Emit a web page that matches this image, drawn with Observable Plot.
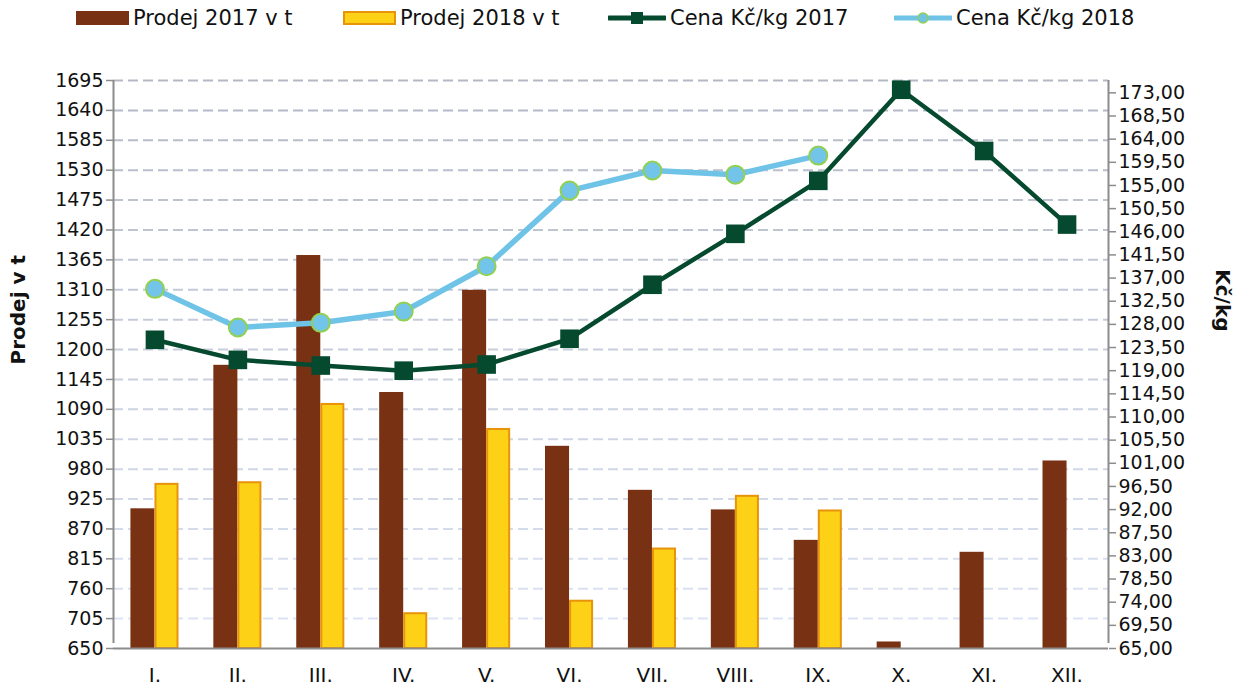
<!DOCTYPE html>
<html><head><meta charset="utf-8">
<script src="https://cdn.jsdelivr.net/npm/d3@7"></script>
<script src="https://cdn.jsdelivr.net/npm/@observablehq/plot@0.6"></script>
<style>
body{margin:0;background:#fff;font-family:"DejaVu Sans",Verdana,sans-serif;}
#legend{position:relative;height:40px;width:1236px;}
.item{position:absolute;top:0;height:36px;display:flex;align-items:center;font-size:21px;color:#111;white-space:nowrap;}
.item svg{margin-right:4px;}
</style></head>
<body>
<div id="legend"></div>
<div id="chart"></div>
<script>
const months = ["I.","II.","III.","IV.","V.","VI.","VII.","VIII.","IX.","X.","XI.","XII."];
const sales2017 = [907, 1171, 1373, 1121, 1309, 1022, 941, 905, 849, 662, 827, 995];
const sales2018 = [952, 955, 1099, 714, 1053, 737, 833, 930, 903, null, null, null];
const price2017 = [125.0, 121.1, 120.0, 119.0, 120.2, 125.2, 135.7, 145.6, 155.9, 173.6, 161.7, 147.4];
const price2018 = [134.9, 127.4, 128.3, 130.5, 139.3, 154.0, 157.9, 157.1, 160.8, null, null, null];
const salesTicks = [650,705,760,815,870,925,980,1035,1090,1145,1200,1255,1310,1365,1420,1475,1530,1585,1640,1695];
const priceTicks = [65,69.5,74,78.5,83,87.5,92,96.5,101,105.5,110,114.5,119,123.5,128,132.5,137,141.5,146,150.5,155,159.5,164,168.5,173];
const seriesNames = ["Prodej 2017 v t","Prodej 2018 v t","Cena Kč/kg 2017","Cena Kč/kg 2018"];

const SALES_MIN = 650, SALES_MAX = 1695, PRICE_MIN = 65, PRICE_MAX = 175.4;
const C17 = "#783213", C18 = "#fcd116", C18S = "#e8930c", G17 = "#054a2f", B18 = "#6ec3e7", B18S = "#92d050";

const W = 1236, H = 650, ML = 113, MR = 128, MT = 40, MB = 42;
const k = (SALES_MAX - SALES_MIN) / (PRICE_MAX - PRICE_MIN);
const toLeft = p => SALES_MIN + (p - PRICE_MIN) * k;
const fromLeft = v => PRICE_MIN + (v - SALES_MIN) / k;

const rows = months.map((m, i) => ({month: m, s17: sales2017[i], s18: sales2018[i], p17: price2017[i], p18: price2018[i]}));
const rows18 = rows.filter(d => d.s18 != null);
const rowsP18 = rows.filter(d => d.p18 != null);
const PI = 0.42;
const step = (W - ML - MR) / months.length;
const half = step * (1 - PI) / 2;
const gridColor = d3.interpolateRgb("#dde6f6", "#b4b8c4");

// legend
const legend = document.getElementById("legend");
const sw = [
  `<svg width="53" height="14"><rect x="0" y="0" width="53" height="14" fill="${C17}"/></svg>`,
  `<svg width="53" height="14"><rect x="1" y="1" width="51" height="12" fill="${C18}" stroke="${C18S}" stroke-width="2"/></svg>`,
  `<svg width="58" height="14"><line x1="1" y1="7" x2="57" y2="7" stroke="${G17}" stroke-width="5" stroke-linecap="round"/><rect x="23" y="1" width="12" height="12" fill="${G17}"/></svg>`,
  `<svg width="58" height="14"><line x1="1" y1="7" x2="57" y2="7" stroke="${B18}" stroke-width="5" stroke-linecap="round"/><circle cx="29" cy="7" r="5" fill="${B18}" stroke="${B18S}" stroke-width="1.5"/></svg>`
];
const lefts = [76, 343, 608, 894];
seriesNames.forEach((n, i) => {
  const d = document.createElement("div");
  d.className = "item";
  d.style.left = lefts[i] + "px";
  d.innerHTML = sw[i] + `<span>${n}</span>`;
  legend.appendChild(d);
});

const chart = Plot.plot({
  width: W, height: H,
  marginLeft: ML, marginRight: MR, marginTop: MT, marginBottom: MB,
  style: {fontFamily: "DejaVu Sans, Verdana, sans-serif", fontSize: "19px", color: "#111", background: "#fff"},
  x: {domain: months, type: "band", paddingInner: PI, paddingOuter: PI / 2, round: false, axis: null},
  y: {domain: [SALES_MIN, SALES_MAX], axis: null},
  marks: [
    Plot.ruleY(salesTicks.slice(1), {y: d => d, stroke: d => gridColor((d - SALES_MIN) / (SALES_MAX - SALES_MIN)), strokeWidth: 2, strokeDasharray: "10,5"}),
    Plot.barY(rows, {x: "month", y1: SALES_MIN, y2: "s17", fill: C17, insetRight: half}),
    Plot.barY(rows18, {x: "month", y1: SALES_MIN, y2: "s18", fill: C18, stroke: C18S, strokeWidth: 2, insetLeft: half + 1, insetRight: 1}),
    Plot.ruleX([months[0]], {x: d => d, dx: -step / 2, y1: SALES_MIN, y2: SALES_MAX, insetTop: -5, stroke: "#8c8c8c", strokeWidth: 2}),
    Plot.ruleX([months[months.length - 1]], {x: d => d, dx: step / 2, y1: SALES_MIN, y2: SALES_MAX, insetTop: -5, stroke: "#8c8c8c", strokeWidth: 2}),
    Plot.ruleY([SALES_MIN], {stroke: "#8c8c8c", strokeWidth: 2}),
    Plot.line(rows, {x: "month", y: d => toLeft(d.p17), stroke: G17, strokeWidth: 4.5}),
    Plot.dot(rows, {x: "month", y: d => toLeft(d.p17), symbol: "square", r: 10.5, fill: G17}),
    Plot.line(rowsP18, {x: "month", y: d => toLeft(d.p18), stroke: B18, strokeWidth: 5.5}),
    Plot.dot(rowsP18, {x: "month", y: d => toLeft(d.p18), r: 9, fill: "#72c5e9", stroke: B18S, strokeWidth: 2}),
    Plot.axisY(salesTicks, {anchor: "left", tickSize: 7, tickPadding: 3, stroke: "#8c8c8c", strokeWidth: 1.5, label: null, tickFormat: d => String(d), fontSize: 19}),
    Plot.axisY(priceTicks.map(toLeft), {anchor: "right", tickSize: 7, tickPadding: 3, stroke: "#8c8c8c", strokeWidth: 1.5, label: null, tickFormat: v => fromLeft(v).toFixed(2).replace(".", ","), fontSize: 19}),
    Plot.axisX({tickSize: 0, tickPadding: 19, label: null, fontSize: 20}),
    Plot.text(["Prodej v t"], {text: d => d, frameAnchor: "left", dx: -95, rotate: -90, fontWeight: "bold", fontSize: 20, fill: "#111"}),
    Plot.text(["Kč/kg"], {text: d => d, frameAnchor: "right", dx: 114, dy: -33, rotate: 90, fontWeight: "bold", fontSize: 20, fill: "#111"})
  ]
});
document.getElementById("chart").appendChild(chart);
</script>
</body></html>
